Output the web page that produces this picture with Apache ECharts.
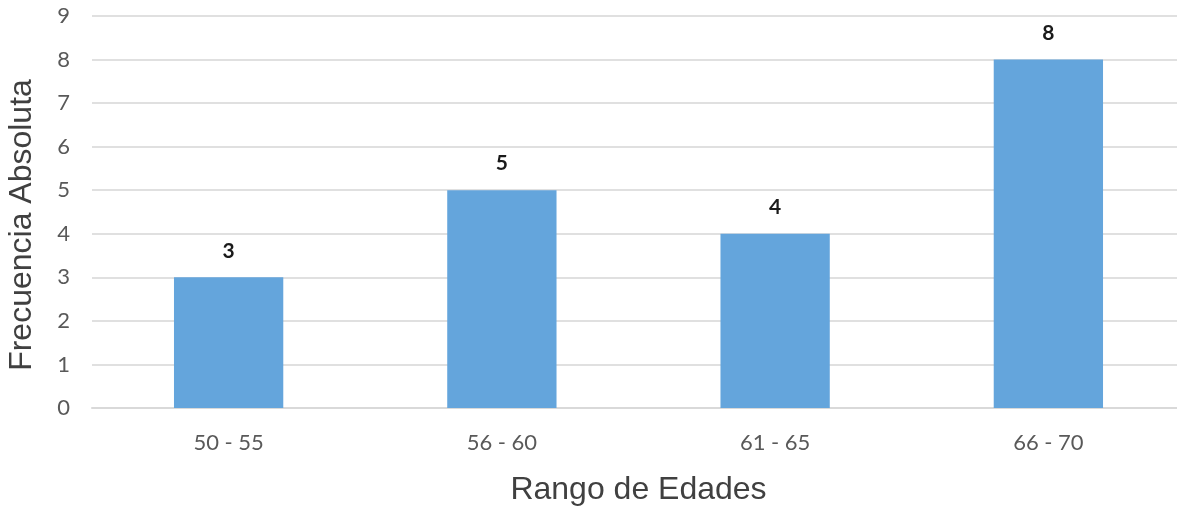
<!DOCTYPE html>
<html>
<head>
<meta charset="utf-8">
<script src="https://cdn.jsdelivr.net/npm/echarts@6/dist/echarts.min.js"></script>
<style>
  html, body { margin: 0; padding: 0; background: #ffffff; }
  #chart { width: 1177px; height: 508px; }
</style>
</head>
<body>
<div id="chart"></div>
<script>
// Age ranges and how many people fall in each
const categories = ['50 - 55', '56 - 60', '61 - 65', '66 - 70'];
const frequencies = [3, 5, 4, 8];
const yAxisTitle = 'Frecuencia Absoluta';
const xAxisTitle = 'Rango de Edades';

const chart = echarts.init(document.getElementById('chart'), null, { renderer: 'canvas' });

chart.setOption({
  animation: false,
  backgroundColor: '#ffffff',
  grid: { left: 92, top: 16, width: 1093, bottom: 100, outerBoundsMode: 'none', containLabel: false },
  xAxis: {
    type: 'category',
    data: categories,
    name: xAxisTitle,
    nameLocation: 'middle',
    nameGap: 66,
    nameTextStyle: { fontFamily: 'Liberation Sans', fontSize: 32, color: '#404040' },
    axisLine: { show: true, lineStyle: { color: '#d9d9d9', width: 2 } },
    axisTick: { show: false },
    axisLabel: { margin: 24, fontFamily: 'Lato', fontSize: 22, color: '#595959' }
  },
  yAxis: {
    type: 'value',
    min: 0,
    max: 9,
    interval: 1,
    name: yAxisTitle,
    nameLocation: 'middle',
    nameGap: 54,
    nameTextStyle: { fontFamily: 'Liberation Sans', fontSize: 32, color: '#404040', padding: [0, 26, 0, 0] },
    axisLine: { show: false },
    axisTick: { show: false },
    axisLabel: { margin: 22, fontFamily: 'Lato', fontSize: 22, color: '#595959' },
    splitLine: { lineStyle: { color: '#e0e0e0', width: 2 } }
  },
  series: [{
    type: 'bar',
    data: frequencies,
    barCategoryGap: '60%',
    itemStyle: { color: '#64a5dc' },
    label: {
      show: true,
      position: 'top',
      distance: 16,
      fontFamily: 'Lato',
      fontWeight: 'bold',
      fontSize: 21,
      color: '#1a1a1a'
    }
  }]
});
</script>
</body>
</html>
